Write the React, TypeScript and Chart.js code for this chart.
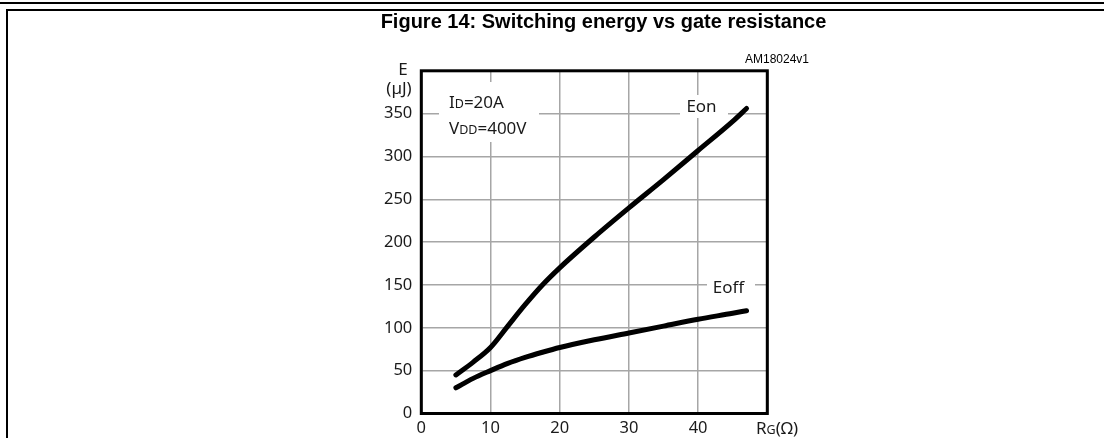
import React, { useEffect, useRef } from 'react';
import { Chart, registerables } from 'chart.js';

Chart.register(...registerables);

// Data
const rgValues = [5, 7.5, 10, 12.5, 15, 17.5, 20, 25, 30, 35, 40, 45, 47];
const eonValues = [45, 60, 77, 102, 127, 150, 170, 206, 240, 273, 307, 341, 356];
const eoffValues = [30, 41, 50, 58.5, 65.5, 71.5, 77, 86, 94, 102, 110, 117, 120];
const xTickValues = [0, 10, 20, 30, 40, 50];
const yTickValues = [0, 50, 100, 150, 200, 250, 300, 350, 400];

const TITLE = 'Figure 14: Switching energy vs gate resistance';
const CODE = 'AM18024v1';

const FONT = '"Noto Sans", sans-serif';

type Seg = [string, number];

function drawRich(ctx: CanvasRenderingContext2D, segs: Seg[], x: number, y: number, align: 'left' | 'center') {
  let total = 0;
  const widths: number[] = [];
  for (const [t, s] of segs) {
    ctx.font = `${s}px ${FONT}`;
    const w = ctx.measureText(t).width;
    widths.push(w);
    total += w;
  }
  let cx = align === 'center' ? x - total / 2 : x;
  ctx.textAlign = 'left';
  ctx.textBaseline = 'alphabetic';
  segs.forEach(([t, s], i) => {
    ctx.font = `${s}px ${FONT}`;
    ctx.fillText(t, cx, y);
    cx += widths[i];
  });
}

const decorPlugin = {
  id: 'decor',
  beforeDatasetsDraw(chart: any) {
    const ctx = chart.ctx as CanvasRenderingContext2D;
    ctx.save();
    ctx.fillStyle = '#fff';
    ctx.fillRect(439, 82, 100, 60);
    ctx.fillRect(680, 95, 48, 23);
    ctx.fillRect(707, 276, 48, 21);
    ctx.restore();
  },
  afterDraw(chart: any) {
    const ctx = chart.ctx as CanvasRenderingContext2D;
    const a = chart.chartArea;
    ctx.save();
    // page frame
    ctx.fillStyle = '#000';
    ctx.fillRect(0, 2, 1104, 2);
    ctx.fillRect(6, 9, 1098, 2);
    ctx.fillRect(6, 9, 2, 429);
    // plot border
    ctx.strokeStyle = '#000';
    ctx.lineWidth = 3;
    ctx.strokeRect(a.left, a.top, a.right - a.left, a.bottom - a.top);
    // title
    ctx.fillStyle = '#000';
    ctx.font = 'bold 20px "Liberation Sans", Arial, sans-serif';
    ctx.textAlign = 'center';
    ctx.textBaseline = 'alphabetic';
    ctx.fillText(TITLE, 603.5, 28);
    // code
    ctx.font = '12px "Liberation Sans", Arial, sans-serif';
    ctx.textAlign = 'left';
    ctx.fillText(CODE, 745, 63);
    ctx.fillStyle = '#1a1a1a';
    // axis titles
    drawRich(ctx, [['E', 17]], 403, 75, 'center');
    drawRich(ctx, [['(µJ)', 17]], 399, 94, 'center');
    drawRich(ctx, [['R', 17], ['G', 12.5], ['(Ω)', 17]], 777, 434, 'center');
    // conditions
    drawRich(ctx, [['I', 17], ['D', 12.5], ['=20A', 17]], 449, 108, 'left');
    drawRich(ctx, [['V', 17], ['DD', 12.5], ['=400V', 17]], 449, 134, 'left');
    // curve labels
    drawRich(ctx, [['Eon', 17]], 701.5, 112, 'center');
    drawRich(ctx, [['Eoff', 17]], 728.5, 293, 'center');
    ctx.restore();
  },
};

export default function App() {
  const ref = useRef<HTMLCanvasElement | null>(null);

  useEffect(() => {
    document.body.style.margin = '0';
    const canvas = ref.current;
    if (!canvas) return;
    const tickFont = { family: FONT, size: 16.5 };
    const lineStyle = {
      borderColor: '#000',
      borderWidth: 5,
      borderCapStyle: 'round',
      borderJoinStyle: 'round',
      pointRadius: 0,
      tension: 0.4,
      cubicInterpolationMode: 'monotone',
      fill: false,
    };
    const chart = new Chart(canvas, {
      type: 'line',
      data: {
        datasets: [
          { label: 'Eon', data: rgValues.map((x, i) => ({ x, y: eonValues[i] })), ...lineStyle },
          { label: 'Eoff', data: rgValues.map((x, i) => ({ x, y: eoffValues[i] })), ...lineStyle },
        ],
      },
      options: {
        responsive: false,
        animation: false,
        layout: { padding: { left: 0, top: 70.8, right: 1104 - 767.3, bottom: 0 } },
        plugins: {
          legend: { display: false },
          tooltip: { enabled: false },
          title: { display: false },
        },
        scales: {
          x: {
            type: 'linear',
            min: 0,
            max: 50,
            afterBuildTicks: (s: any) => {
              s.ticks = xTickValues.map((v) => ({ value: v }));
            },
            afterFit: (s: any) => {
              s.height = 438 - 413.5;
            },
            ticks: {
              callback: (v: any) => (v === 50 ? '' : String(v)),
              font: tickFont,
              color: '#1a1a1a',
              padding: 4.5,
              maxRotation: 0,
              autoSkip: false,
            },
            grid: { color: '#a6a6a6', lineWidth: 1.5, drawTicks: false },
            border: { display: false },
          },
          y: {
            type: 'linear',
            min: 0,
            max: 400,
            afterBuildTicks: (s: any) => {
              s.ticks = yTickValues.map((v) => ({ value: v }));
            },
            afterFit: (s: any) => {
              s.width = 421.3;
            },
            ticks: {
              callback: (v: any) => (v === 400 ? '' : String(v)),
              font: tickFont,
              color: '#1a1a1a',
              padding: 9,
              autoSkip: false,
            },
            grid: { color: '#a6a6a6', lineWidth: 1.5, drawTicks: false },
            border: { display: false },
          },
        },
      } as any,
      plugins: [decorPlugin],
    });
    return () => chart.destroy();
  }, []);

  return (
    <div style={{ width: 1104, height: 438, position: 'relative', background: '#fff' }}>
      <canvas ref={ref} width={1104} height={438} style={{ display: 'block' }} />
    </div>
  );
}
